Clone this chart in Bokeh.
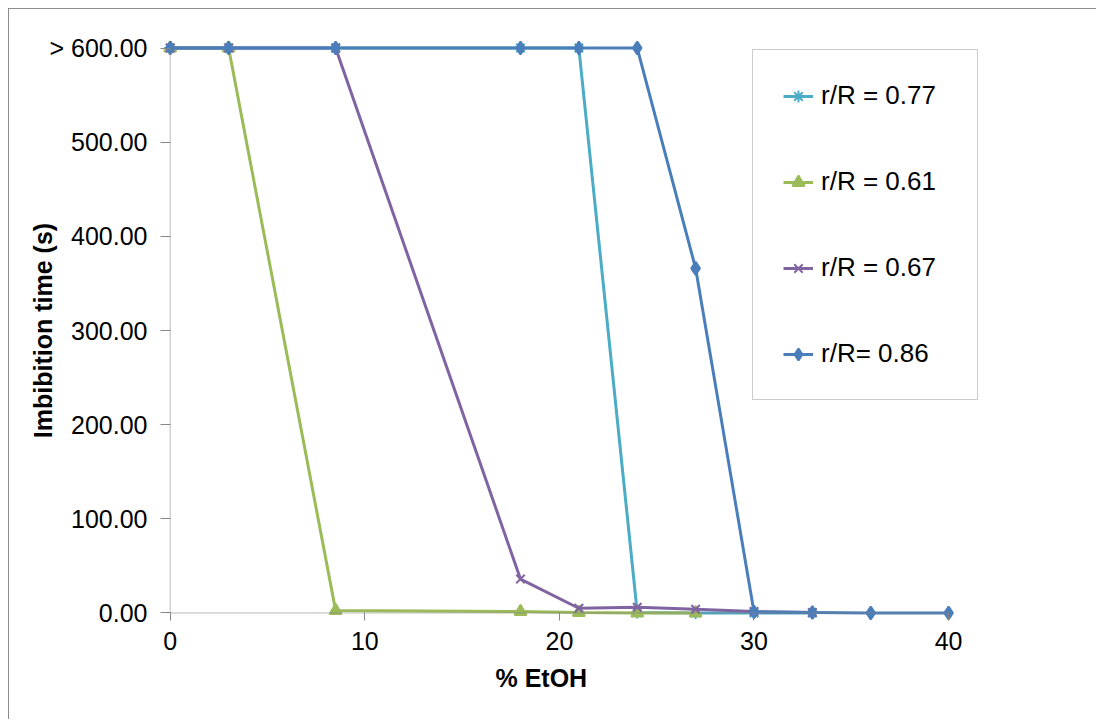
from bokeh.plotting import figure
from bokeh.models import Legend, LegendItem, FixedTicker, Range1d, BoxAnnotation, Title
from bokeh.embed import file_html
from bokeh.resources import INLINE

# ---- data ----
x_077 = [0, 3, 8.5, 18, 21, 24, 27, 30, 33]
y_077 = [600, 600, 600, 600, 600, 0.5, 0, 0, 0]

x_061 = [0, 3, 8.5, 18, 21, 24, 27]
y_061 = [600, 600, 2.5, 1.5, 0.5, 0, 0]

x_067 = [0, 3, 8.5, 18, 21, 24, 27, 30, 33]
y_067 = [600, 600, 600, 36, 5, 6, 4, 1.5, 0.5]

x_086 = [0, 3, 8.5, 18, 21, 24, 27, 30, 33, 36, 40]
y_086 = [600, 600, 600, 600, 600, 600, 366, 1, 0.5, 0, 0]

series_names = ["r/R = 0.77", "r/R = 0.61", "r/R = 0.67", "r/R= 0.86"]
x_ticks = [0, 10, 20, 30, 40]
y_ticks = [0, 100, 200, 300, 400, 500, 600]
y_tick_labels = ["0.00", "100.00", "200.00", "300.00", "400.00", "500.00", "> 600.00"]
x_title = "% EtOH"
y_title = "Imbibition time (s)"

FONT = "Liberation Sans"
AXIS_GREY = "#868686"

x_lo, x_hi = x_ticks[0], x_ticks[-1]
y_lo, y_hi = y_ticks[0], y_ticks[-1]

p = figure(width=1096, height=719, output_backend="svg", toolbar_location=None,
           x_range=Range1d(-0.5, 42), y_range=Range1d(-8, 608),
           min_border_left=160, min_border_right=109, min_border_top=40, min_border_bottom=99)
p.outline_line_color = None
p.grid.grid_line_color = None
p.background_fill_color = "white"
p.border_fill_alpha = 0
p.styles = {
    "background-image": "linear-gradient(#8c8c8c, #8c8c8c), linear-gradient(#8c8c8c, #8c8c8c)",
    "background-size": "1px 100%, 100% 1px",
    "background-position": "8px 8px, 8px 8px",
    "background-repeat": "no-repeat",
}

# axis lines along x=0 (0..600) and y=0 (0..40)
p.add_layout(BoxAnnotation(left=x_lo, right=x_lo, bottom=y_lo, top=y_hi,
                           fill_alpha=0, line_color=AXIS_GREY, line_width=1))
p.add_layout(BoxAnnotation(left=x_lo, right=x_hi, bottom=y_lo, top=y_lo,
                           fill_alpha=0, line_color=AXIS_GREY, line_width=1))

colors = ["#4BACC6", "#9BBB59", "#8064A2", "#4A7EBB"]
markers = ["asterisk", "triangle", "x", "diamond"]
msizes = [12, 12, 12, 13]
xs = [x_077, x_061, x_067, x_086]
ys = [y_077, y_061, y_067, y_086]

items = []
for xv, yv, c, m, ms, name in zip(xs, ys, colors, markers, msizes, series_names):
    l = p.line(xv, yv, line_color=c, line_width=3)
    s = p.scatter(xv, yv, marker=m, size=ms, line_color=c, fill_color=c, line_width=2)
    items.append(LegendItem(label=name, renderers=[l, s]))

legend = Legend(items=items, location=(592, 220))
legend.label_text_font = FONT
legend.label_text_font_size = "26px"
legend.label_text_color = "black"
legend.label_height = 30
legend.label_width = 126
legend.glyph_height = 30
legend.glyph_width = 30
legend.label_standoff = 8
legend.spacing = 55
legend.padding = 30
legend.margin = 0
legend.border_line_color = "#9a9a9a"
legend.border_line_width = 1
legend.background_fill_color = "white"
legend.background_fill_alpha = 1
p.add_layout(legend)

for ax in (p.xaxis[0], p.yaxis[0]):
    ax.axis_line_color = None
    ax.major_tick_line_color = AXIS_GREY
    ax.major_tick_out = 0
    ax.minor_tick_line_color = None
    ax.major_label_text_font = FONT
    ax.major_label_text_font_size = "25px"
    ax.major_label_text_color = "black"
    ax.axis_label_text_font = FONT
    ax.axis_label_text_font_size = "25px"
    ax.axis_label_text_font_style = "bold"
    ax.axis_label_text_color = "black"

p.xaxis.ticker = FixedTicker(ticks=x_ticks)
p.xaxis.major_tick_in = 8
p.xaxis.major_label_standoff = 11

# x-axis title placed under the 0..40 axis line (frame is wider to hold the legend)
p.add_layout(Title(text=x_title, align="left", offset=335, standoff=19,
                   text_font=FONT, text_font_size="25px", text_font_style="bold",
                   text_color="black"), "below")

p.yaxis.ticker = FixedTicker(ticks=y_ticks)
p.yaxis.major_tick_in = 10
p.yaxis.major_label_overrides = {t: lab for t, lab in zip(y_ticks, y_tick_labels)}
p.yaxis.axis_label = y_title
p.yaxis.major_label_standoff = 13
p.yaxis.axis_label_standoff = -11

open("out.html", "w").write(file_html(p, INLINE))
